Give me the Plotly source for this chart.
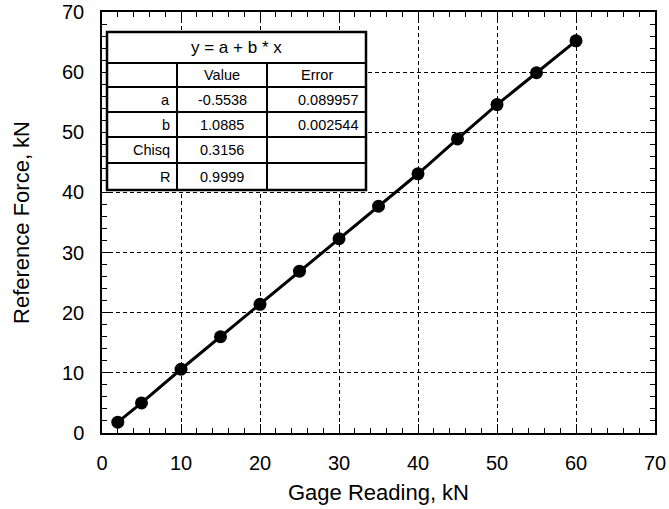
import plotly.graph_objects as go

gage = [2, 5, 10, 15, 20, 25, 30, 35, 40, 45, 50, 55, 60]
force = [1.8, 5.0, 10.6, 16.0, 21.4, 26.9, 32.3, 37.7, 43.1, 48.9, 54.6, 59.9, 65.2]

x_ticks = [0, 10, 20, 30, 40, 50, 60, 70]
y_ticks = [0, 10, 20, 30, 40, 50, 60, 70]

fit_title = "y = a + b * x"
col_headers = ["", "Value", "Error"]
row_names = ["a", "b", "Chisq", "R"]
row_values = ["-0.5538", "1.0885", "0.3156", "0.9999"]
row_errors = ["0.089957", "0.002544", "", ""]

W, H = 669, 509
# plot area on screen: x 102..655, y 12..433
L, T = 102, 12
R = W - 655
B = H - 433
pw, ph = W - L - R, H - T - B

def px(x):  # screen pixel -> paper
    return (x - L) / pw

def py(y):
    return (H - B - y) / ph

fig = go.Figure()
fig.add_trace(go.Scatter(
    x=gage, y=force, mode="lines+markers",
    line=dict(color="black", width=3),
    marker=dict(color="black", size=13),
    showlegend=False,
))

FONT = "Liberation Sans, Arial"
axis_common = dict(
    showline=True, linecolor="black", linewidth=1.5, mirror="ticks",
    ticks="inside", ticklen=9, tickwidth=1.2, tickcolor="black",
    showgrid=True, gridcolor="black", griddash="4px,3px", gridwidth=1,
    zeroline=False, automargin=False,
    tickfont=dict(family=FONT, size=20, color="black"),
    minor=dict(ticks="inside", ticklen=5, tickcolor="black", dtick=2, showgrid=False),
)

fig.update_xaxes(range=[0, 70], tickvals=x_ticks, ticklabelstandoff=11,
                 title=dict(text="Gage Reading, kN", font=dict(family=FONT, size=22, color="black"), standoff=12),
                 **axis_common)
fig.update_yaxes(range=[0, 70], tickvals=y_ticks, ticklabelstandoff=12,
                 title=dict(text="Reference Force, kN", font=dict(family=FONT, size=22, color="black"), standoff=26),
                 **axis_common)

# table geometry (screen pixels)
tx0, tx1, tx2, tx3 = 107, 177, 267, 366
ty = [32, 63, 87, 112, 137, 163, 190]

shapes = []
shapes.append(dict(type="rect", xref="paper", yref="paper", x0=px(tx0), x1=px(tx3), y0=py(ty[-1]), y1=py(ty[0]),
                   fillcolor="white", line=dict(color="black", width=2.5), layer="above"))
for yy in ty[1:-1]:
    shapes.append(dict(type="line", xref="paper", yref="paper", x0=px(tx0), x1=px(tx3), y0=py(yy), y1=py(yy),
                       line=dict(color="black", width=2), layer="above"))
for xx in (tx1, tx2):
    shapes.append(dict(type="line", xref="paper", yref="paper", x0=px(xx), x1=px(xx), y0=py(ty[1]), y1=py(ty[-1]),
                       line=dict(color="black", width=2), layer="above"))

anns = []
tf = dict(family=FONT, size=14.5, color="black")
def ann(x, y, text, font, xanchor="center"):
    anns.append(dict(xref="paper", yref="paper", x=x, y=y, text=text, showarrow=False,
                     font=font, xanchor=xanchor, yanchor="middle"))

ann(px((tx0 + tx3) / 2), py((ty[0] + ty[1]) / 2), fit_title, dict(family=FONT, size=17, color="black"))
cx = [(tx0 + tx1) / 2, (tx1 + tx2) / 2, (tx2 + tx3) / 2]
for i, h in enumerate(col_headers):
    if h:
        ann(px(cx[i]), py((ty[1] + ty[2]) / 2), h, tf)
for r in range(4):
    yc = py((ty[r + 2] + ty[r + 3]) / 2)
    ann(px(tx1 - 5), yc, row_names[r], tf, xanchor="right")
    ann(px(cx[1]), yc, row_values[r], tf)
    if row_errors[r]:
        ann(px(tx3 - 6), yc, row_errors[r], tf, xanchor="right")

fig.update_layout(
    width=W, height=H,
    margin=dict(l=L, r=R, t=T, b=B),
    plot_bgcolor="white", paper_bgcolor="white",
    shapes=shapes, annotations=anns,
)

fig.write_html("out.html", config={"displayModeBar": False},
               post_script="document.body.style.margin='0';")
